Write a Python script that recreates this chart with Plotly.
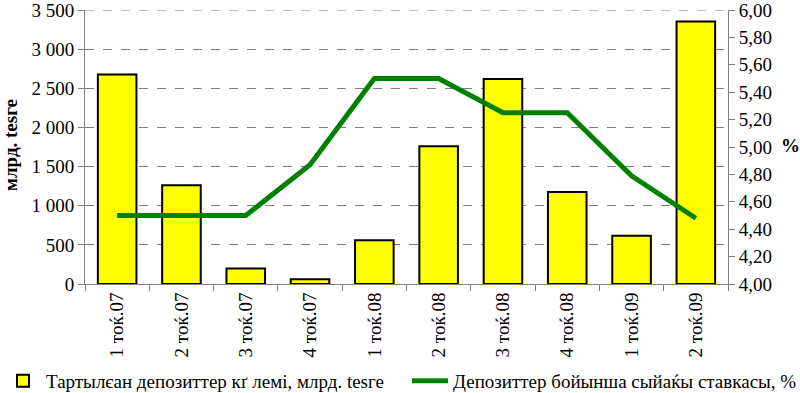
import plotly.graph_objects as go

categories = ["1 тоќ.07", "2 тоќ.07", "3 тоќ.07", "4 тоќ.07", "1 тоќ.08",
              "2 тоќ.08", "3 тоќ.08", "4 тоќ.08", "1 тоќ.09", "2 тоќ.09"]
deposits = [2675, 1262, 197, 62, 558, 1758, 2620, 1175, 617, 3352]
rates = [4.50, 4.50, 4.50, 4.87, 5.50, 5.50, 5.25, 5.25, 4.79, 4.48]

bar_name = "Тартылєан депозиттер кґ лемі, млрд. tesге"
line_name = "Депозиттер бойынша сыйаќы ставкасы, %"
left_title = "млрд. tesге"
right_title = "%"

FONT = "Liberation Serif, Times New Roman, serif"
FS = 19

W, H = 800, 393
L, R, T, B = 85, 72, 10, 109
PW, PH = W - L - R, H - T - B

def px_x(x):
    return (x - L) / PW

def px_y(y):
    return (H - B - y) / PH

fig = go.Figure()
fig.add_trace(go.Bar(
    x=categories, y=deposits, name=bar_name,
    marker=dict(color="#FFFF00", line=dict(color="#000000", width=2)),
    width=0.6, yaxis="y", legend="legend",
))
fig.add_trace(go.Scatter(
    x=categories, y=rates, name=line_name, mode="lines",
    line=dict(color="#008000", width=5), yaxis="y2", legend="legend2",
))

legend_common = dict(
    orientation="h", yanchor="middle", xanchor="left",
    font=dict(family=FONT, size=FS, color="#000000"),
    itemwidth=36, bgcolor="rgba(0,0,0,0)", borderwidth=0,
)

fig.update_layout(
    width=W, height=H,
    margin=dict(l=L, r=R, t=T, b=B, autoexpand=False),
    paper_bgcolor="white", plot_bgcolor="white",
    font=dict(family=FONT, size=FS, color="#000000"),
    separators=", ",
    showlegend=True,
    legend=dict(x=px_x(0), y=px_y(381), **legend_common),
    legend2=dict(x=px_x(407), y=px_y(381), **legend_common),
    xaxis=dict(
        type="category", tickangle=-90, automargin=False,
        showline=True, linecolor="#808080", linewidth=1,
        ticks="outside", tickson="boundaries", ticklen=6, tickcolor="#808080",
        showgrid=False, tickfont=dict(family=FONT, size=FS),
    ),
    yaxis=dict(
        range=[0, 3500], dtick=500, tickformat=",d", automargin=False,
        ticklabeloverflow="allow",
        showline=True, linecolor="#808080", linewidth=1,
        ticks="outside", ticklen=6, tickcolor="#808080",
        showgrid=True, gridcolor="#808080", griddash="dash", gridwidth=1,
        zeroline=False, tickfont=dict(family=FONT, size=FS),
    ),
    yaxis2=dict(
        range=[4.0, 6.0], dtick=0.2, tickformat=".2f", automargin=False,
        ticklabeloverflow="allow",
        overlaying="y", side="right",
        showline=True, linecolor="#808080", linewidth=1,
        ticks="outside", ticklen=6, tickcolor="#808080",
        showgrid=False, zeroline=False, tickfont=dict(family=FONT, size=FS),
    ),
    shapes=[
        dict(type="line", xref="paper", yref="y", x0=0, x1=1, y0=3500, y1=3500,
             line=dict(color="#808080", width=1, dash="dash"), layer="below"),
    ],
    annotations=[
        dict(text="<b>" + left_title + "</b>", xref="paper", yref="paper",
             x=px_x(10), y=px_y(145), textangle=-90, showarrow=False,
             xanchor="center", yanchor="middle",
             font=dict(family=FONT, size=FS, color="#000000")),
        dict(text="<b>" + right_title + "</b>", xref="paper", yref="paper",
             x=px_x(790), y=px_y(145), showarrow=False,
             xanchor="center", yanchor="middle",
             font=dict(family=FONT, size=FS, color="#000000")),
    ],
    bargap=0.4,
)

fig.write_html("out.html", config={"displayModeBar": False},
               post_script="document.body.style.margin='0px';")
